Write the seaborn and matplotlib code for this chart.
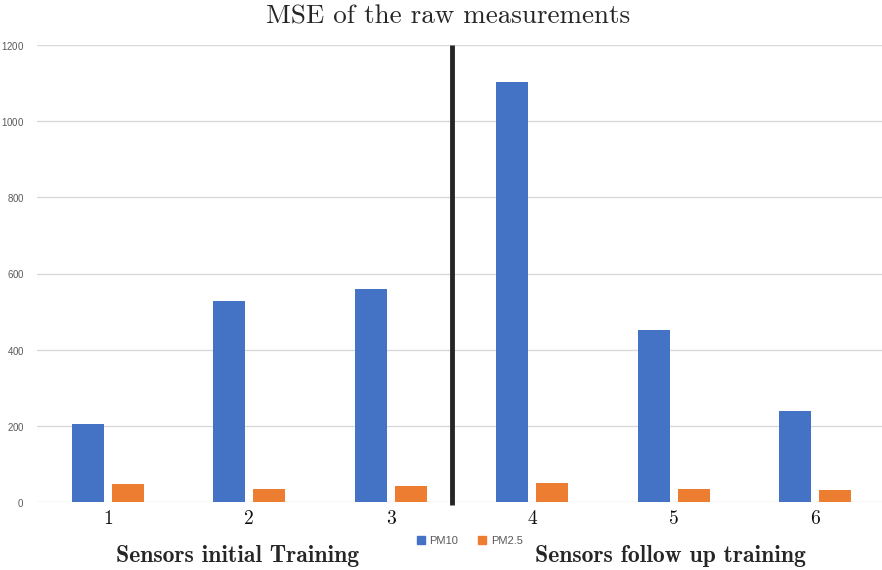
import numpy as np
import pandas as pd
import matplotlib
matplotlib.use("Agg")
import matplotlib.pyplot as plt
import seaborn as sns

# values
sensors = ["1", "2", "3", "4", "5", "6"]
pm10 = [205, 528, 560, 1102, 451, 239]
pm25 = [47, 34, 42, 50, 34, 31]

df = pd.DataFrame({
    "Sensor": sensors * 2,
    "MSE": pm10 + pm25,
    "Series": ["PM10"] * len(sensors) + ["PM2.5"] * len(sensors),
})

sns.set_style("white")
plt.rcParams["axes.formatter.use_mathtext"] = True

fig = plt.figure(figsize=(8.82, 5.7), dpi=100)
ax = fig.add_axes([37 / 882, 68 / 570, 845 / 882, 457 / 570])

sns.barplot(data=df, x="Sensor", y="MSE", hue="Series",
            palette=["#4472C4", "#ED7D31"], saturation=1, width=0.566, gap=0.2,
            edgecolor="none", ax=ax, legend=False, zorder=3)

group_px = 141.5
ax.set_xlim(-0.5, -0.5 + 845 / group_px)
ax.set_ylim(0, 1200)
ax.set_yticks(np.arange(0, 1201, 200))
ax.yaxis.grid(True, color="#d9d9d9", linewidth=1, zorder=0)
for s in ax.spines.values():
    s.set_visible(False)
ax.tick_params(axis="both", length=0)
ax.tick_params(axis="y", pad=9, labelsize=7, labelcolor="#595959")
for lab in ax.get_yticklabels():
    lab.set_family("Liberation Sans")
ax.set_xticks(range(len(sensors)))
ax.set_xticklabels(sensors, family="cmr10", fontsize=14, color="#111111")
ax.tick_params(axis="x", pad=6)
ax.set_xlabel("")
ax.set_ylabel("")

# separator between the two training phases
ax.plot([(452 - 37) / group_px - 0.5] * 2, [-8, 1200], color="#262626",
        linewidth=3.5, solid_capstyle="butt", zorder=4, clip_on=False)

fig.text(448 / 882, 1 - 17 / 570, "MSE of the raw measurements", family="cmr10",
         fontsize=19.5, ha="center", va="center")
fig.text(238 / 882, 1 - 556 / 570, "Sensors initial Training", family="cmb10",
         fontsize=17, ha="center", va="center")
fig.text(670 / 882, 1 - 556 / 570, "Sensors follow up training", family="cmb10",
         fontsize=17, ha="center", va="center")

handles = [plt.Rectangle((0, 0), 1, 1, color=c) for c in ["#4472C4", "#ED7D31"]]
fig.legend(handles, ["PM10", "PM2.5"], loc="center", ncol=2,
           bbox_to_anchor=(470 / 882, 1 - 541 / 570), frameon=False,
           prop={"family": "Liberation Sans", "size": 8}, labelcolor="#595959",
           handlelength=0.7, handleheight=0.7, handletextpad=0.4,
           columnspacing=1.8)

fig.savefig("out.png", dpi=100)
